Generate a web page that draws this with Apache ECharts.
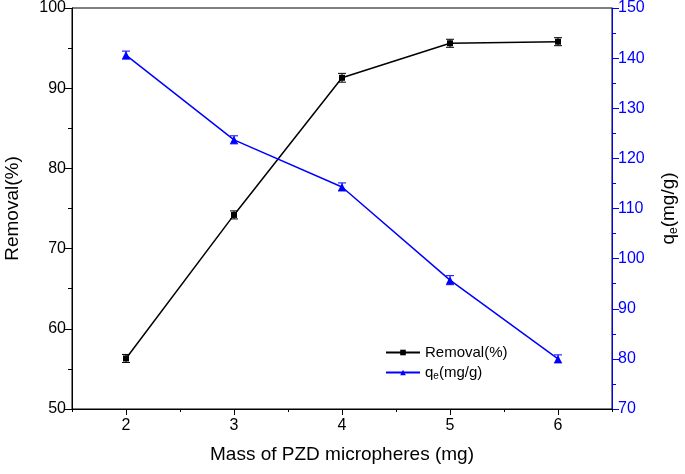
<!DOCTYPE html>
<html>
<head>
<meta charset="utf-8">
<script src="https://cdn.jsdelivr.net/npm/echarts@6/dist/echarts.min.js"></script>
<style>
  html, body { margin: 0; padding: 0; background: #fff; }
  #main { width: 685px; height: 474px; }
</style>
</head>
<body>
<div id="main"></div>
<script>
var mass = [2, 3, 4, 5, 6];
var removal = [56.3, 74.2, 91.3, 95.6, 95.8];
var removalErr = [0.5, 0.5, 0.55, 0.5, 0.5];
var qe = [140.6, 123.7, 114.3, 95.7, 80.0];
var qeErr = [0.8, 0.8, 0.8, 0.9, 0.8];
var xLabels = [2, 3, 4, 5, 6];

var font = 'Liberation Sans, Arial, sans-serif';

function pairs(xs, ys) {
    var out = [];
    for (var i = 0; i < xs.length; i++) {
        out.push([xs[i], ys[i]]);
    }
    return out;
}

function errData(xs, ys, es) {
    var out = [];
    for (var i = 0; i < xs.length; i++) {
        out.push([xs[i], ys[i], es[i]]);
    }
    return out;
}

// vertical error bar with caps
function errRender(color) {
    return function (params, api) {
        var x = api.value(0), y = api.value(1), e = api.value(2);
        var hi = api.coord([x, y + e]);
        var lo = api.coord([x, y - e]);
        var w = 4;
        var st = {stroke: color, lineWidth: 1};
        return {
            type: 'group',
            children: [
                {type: 'line', shape: {x1: hi[0], y1: hi[1], x2: lo[0], y2: lo[1]}, style: st},
                {type: 'line', shape: {x1: hi[0] - w, y1: hi[1], x2: hi[0] + w, y2: hi[1]}, style: st},
                {type: 'line', shape: {x1: lo[0] - w, y1: lo[1], x2: lo[0] + w, y2: lo[1]}, style: st}
            ]
        };
    };
}

var chart = echarts.init(document.getElementById('main'));
chart.setOption({
    backgroundColor: '#fff',
    animation: false,
    textStyle: {fontFamily: font},
    grid: {
        left: 72, top: 8, width: 540, height: 401,
        containLabel: false, outerBoundsMode: 'none',
        show: true, borderColor: '#000', borderWidth: 1
    },
    legend: {
        data: ['Removal(%)', 'qe(mg/g)'],
        orient: 'vertical',
        left: 385, top: 345, padding: 0,
        itemWidth: 34, itemHeight: 7, itemGap: 5,
        textStyle: {
            fontSize: 15, color: '#000', fontFamily: font,
            rich: {
                n: {fontSize: 15, fontFamily: font, color: '#000'},
                s: {fontSize: 10, fontFamily: font, color: '#000', verticalAlign: 'bottom', padding: [8, 0, 0, 0]}
            }
        },
        formatter: function (name) {
            if (name === 'qe(mg/g)') return '{n|q}{s|e}{n|(mg/g)}';
            return '{n|' + name + '}';
        }
    },
    xAxis: [{
        type: 'value', min: 1.5, max: 6.5, interval: 0.5,
        name: 'Mass of PZD micropheres (mg)', nameLocation: 'middle', nameGap: 36,
        nameTextStyle: {fontSize: 19, color: '#000', fontFamily: font},
        axisLine: {show: true, lineStyle: {color: '#000', width: 1}},
        axisTick: {show: true, length: 3, lineStyle: {color: '#000'}},
        axisLabel: {customValues: xLabels, fontSize: 16, color: '#000', margin: 9, fontFamily: font},
        splitLine: {show: false}
    }, {
        type: 'value', min: 1.5, max: 6.5, position: 'bottom',
        axisLine: {show: false},
        axisTick: {show: true, customValues: xLabels, length: 6, lineStyle: {color: '#000'}},
        axisLabel: {show: false},
        splitLine: {show: false}
    }],
    yAxis: [{
        type: 'value', min: 50, max: 100, interval: 10,
        name: 'Removal(%)', nameLocation: 'middle', nameGap: 50,
        nameTextStyle: {fontSize: 19, color: '#000', fontFamily: font},
        axisLine: {show: true, lineStyle: {color: '#000', width: 1}},
        axisTick: {show: true, length: 7, lineStyle: {color: '#000'}},
        minorTick: {show: true, splitNumber: 2, length: 4, lineStyle: {color: '#000'}},
        axisLabel: {fontSize: 16, color: '#000', margin: 6, fontFamily: font},
        splitLine: {show: false}
    }, {
        type: 'value', min: 70, max: 150, interval: 10, position: 'right',
        name: '{n|q}{s|e}{n|(mg/g)}', nameLocation: 'middle', nameGap: 46, nameRotate: 90,
        nameTextStyle: {
            fontSize: 19, color: '#000', fontFamily: font,
            rich: {
                n: {fontSize: 19, fontFamily: font, color: '#000'},
                s: {fontSize: 12, fontFamily: font, color: '#000', verticalAlign: 'bottom', padding: [10, 0, 0, 0]}
            }
        },
        axisLine: {show: true, lineStyle: {color: '#0000ff', width: 1}},
        axisTick: {show: true, length: 7, lineStyle: {color: '#0000ff'}},
        minorTick: {show: true, splitNumber: 2, length: 4, lineStyle: {color: '#0000ff'}},
        axisLabel: {fontSize: 16, color: '#0000ff', margin: 6, fontFamily: font},
        splitLine: {show: false}
    }],
    series: [{
        name: 'Removal(%)', type: 'line', xAxisIndex: 0, yAxisIndex: 0,
        data: pairs(mass, removal),
        symbol: 'rect', symbolSize: 6,
        itemStyle: {color: '#000'},
        lineStyle: {color: '#000', width: 1.5}
    }, {
        name: 'qe(mg/g)', type: 'line', xAxisIndex: 0, yAxisIndex: 1,
        data: pairs(mass, qe),
        symbol: 'triangle', symbolSize: 8,
        itemStyle: {color: '#0000ff'},
        lineStyle: {color: '#0000ff', width: 1.5}
    }, {
        name: 'removalErr', type: 'custom', xAxisIndex: 0, yAxisIndex: 0,
        data: errData(mass, removal, removalErr),
        renderItem: errRender('#000'), z: 3
    }, {
        name: 'qeErr', type: 'custom', xAxisIndex: 0, yAxisIndex: 1,
        data: errData(mass, qe, qeErr),
        renderItem: errRender('#0000ff'), z: 3
    }]
});
</script>
</body>
</html>
